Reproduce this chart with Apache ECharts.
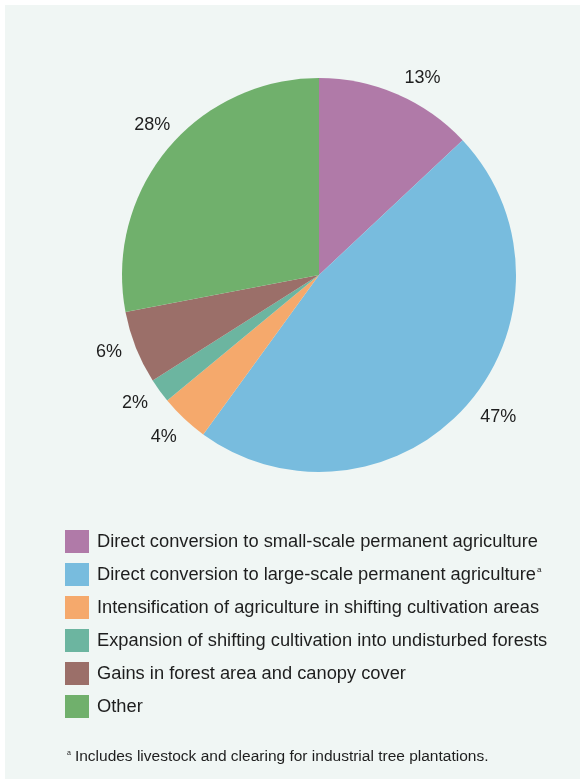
<!DOCTYPE html>
<html>
<head>
<meta charset="utf-8">
<script src="https://cdn.jsdelivr.net/npm/echarts@6/dist/echarts.min.js"></script>
<style>
  html, body { margin: 0; padding: 0; background: #ffffff; overflow: hidden; }
  #panel { position: absolute; left: 5px; top: 5px; width: 575px; height: 774px; background: #f0f6f4; }
  #chart { width: 575px; height: 774px; }
</style>
</head>
<body>
<div id="panel"><div id="chart"></div></div>
<script>
// Drivers of forest area change (share of total, %)
const categories = [
  'Direct conversion to small-scale permanent agriculture',
  'Direct conversion to large-scale permanent agriculture',
  'Intensification of agriculture in shifting cultivation areas',
  'Expansion of shifting cultivation into undisturbed forests',
  'Gains in forest area and canopy cover',
  'Other'
];
const shares = [13, 47, 4, 2, 6, 28];
const colors = ['#b07aa8', '#78bcde', '#f5a96c', '#6cb5a0', '#9b6f69', '#70b06c'];
const footnoteMarks = ['', 'a', '', '', '', ''];
const footnote = 'Includes livestock and clearing for industrial tree plantations.';

const FONT = '"Liberation Sans", Arial, Helvetica, sans-serif';

// small nudges for labels that sit away from their slice's mid-angle
const labelNudges = [null, null, [5, 5], [3, 2], [3, -2], [17, -13]];

const chart = echarts.init(document.getElementById('chart'), null, { renderer: 'canvas' });

chart.setOption({
  animation: false,
  backgroundColor: 'transparent',
  color: colors,
  legend: {
    orient: 'vertical',
    left: 55,
    top: 520,
    itemWidth: 24,
    itemHeight: 23,
    itemGap: 10,
    icon: 'rect',
    selectedMode: false,
    data: categories,
    formatter: function (name) {
      const mark = footnoteMarks[categories.indexOf(name)];
      return mark ? name + '{sup|' + mark + '}' : name;
    },
    textStyle: {
      fontFamily: FONT,
      fontSize: 18.3,
      color: '#1e1e1e',
      padding: [0, 0, 0, 3],
      rich: {
        sup: { fontFamily: FONT, fontSize: 8, color: '#1e1e1e', verticalAlign: 'top', padding: [0, 0, 8, 1] }
      }
    }
  },
  graphic: [{
    type: 'text',
    left: 62,
    top: 744,
    style: {
      text: '{sup|a}' + footnote,
      fontFamily: FONT,
      fontSize: 15.5,
      fill: '#1e1e1e',
      rich: {
        sup: { fontFamily: FONT, fontSize: 7, fill: '#1e1e1e', padding: [0, 4, 8, 0] }
      }
    }
  }],
  series: [{
    type: 'pie',
    center: [314, 270],
    radius: [0, 197],
    startAngle: 90,
    clockwise: true,
    avoidLabelOverlap: false,
    silent: true,
    itemStyle: { borderWidth: 0 },
    label: {
      show: true,
      position: 'outside',
      formatter: '{c}%',
      fontFamily: FONT,
      fontSize: 18,
      color: '#1e1e1e',
      distanceToLabelLine: 0
    },
    labelLine: { show: false, length: 18, length2: 0 },
    data: categories.map((name, i) => {
      const item = { name: name, value: shares[i] };
      if (labelNudges[i]) item.label = { offset: labelNudges[i] };
      return item;
    })
  }]
});
</script>
</body>
</html>
